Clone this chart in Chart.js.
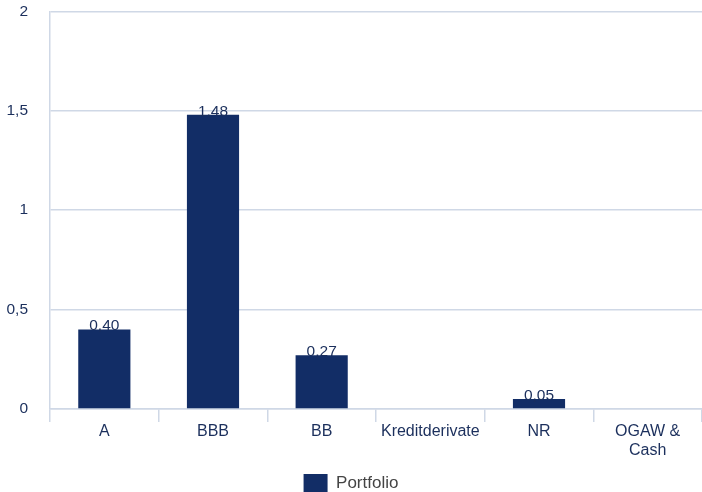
<!DOCTYPE html>
<html>
<head>
<meta charset="utf-8">
<script src="https://cdn.jsdelivr.net/npm/chart.js@4"></script>
<style>
html,body{margin:0;padding:0;background:#fff;}
#wrap{width:702px;height:492px;position:relative;}
</style>
</head>
<body>
<div id="wrap"><canvas id="c" width="702" height="492"></canvas></div>
<script>
const categories = [["A"], ["BBB"], ["BB"], ["Kreditderivate"], ["NR"], ["OGAW &", "Cash"]];
const portfolio = [0.40, 1.48, 0.27, null, 0.05, null];
const seriesName = "Portfolio";
const yTicks = [0, 0.5, 1, 1.5, 2];

const navy = "#122d66";
const textNavy = "#1b2f5c";
const gridCol = "#cfd8e6";
const FONT = "'Liberation Sans', Arial, Helvetica, sans-serif";

const fmt = v => v.toFixed(2).replace(".", ",");

const labelPlugin = {
  id: "barLabels",
  afterDatasetsDraw(chart) {
    const ctx = chart.ctx;
    const meta = chart.getDatasetMeta(0);
    ctx.save();
    ctx.font = "15.5px " + FONT;
    ctx.fillStyle = textNavy;
    ctx.textAlign = "center";
    ctx.textBaseline = "alphabetic";
    meta.data.forEach((bar, i) => {
      const v = portfolio[i];
      if (v === null || v === undefined) return;
      ctx.fillText(fmt(v), bar.x, bar.y + 1);
    });
    ctx.restore();
  }
};

new Chart(document.getElementById("c"), {
  type: "bar",
  data: {
    labels: categories,
    datasets: [{
      label: seriesName,
      data: portfolio,
      backgroundColor: navy,
      borderWidth: 0,
      categoryPercentage: 0.96,
      barPercentage: 0.5
    }]
  },
  options: {
    responsive: false,
    animation: false,
    layout: { padding: { top: 0, right: 0, left: 0, bottom: -10 } },
    plugins: {
      legend: {
        position: "bottom",
        labels: {
          boxWidth: 24,
          boxHeight: 18,
          padding: 14,
          color: "#444444",
          font: { family: FONT, size: 17 }
        }
      },
      tooltip: { enabled: false }
    },
    scales: {
      x: {
        offset: true,
        grid: {
          offset: true,
          drawOnChartArea: false,
          drawTicks: true,
          tickLength: 13,
          color: gridCol,
          lineWidth: 1.5
        },
        border: { color: gridCol, width: 1.5 },
        ticks: {
          color: textNavy,
          font: { family: FONT, size: 16 },
          padding: 0,
          maxRotation: 0,
          autoSkip: false
        },
        afterFit(scale) { scale.height = 51; }
      },
      y: {
        min: 0,
        max: 2,
        afterBuildTicks(scale) { scale.ticks = yTicks.map(v => ({ value: v })); },
        grid: {
          color: gridCol,
          lineWidth: 1.5,
          drawTicks: true,
          tickLength: 20,
          tickColor: "rgba(0,0,0,0)"
        },
        border: { color: gridCol, width: 1.5 },
        ticks: {
          color: textNavy,
          font: { family: FONT, size: 15.5 },
          padding: 2,
          callback: v => String(v).replace(".", ",")
        },
        afterFit(scale) { scale.width = 50; }
      }
    }
  },
  plugins: [labelPlugin]
});
</script>
</body>
</html>
